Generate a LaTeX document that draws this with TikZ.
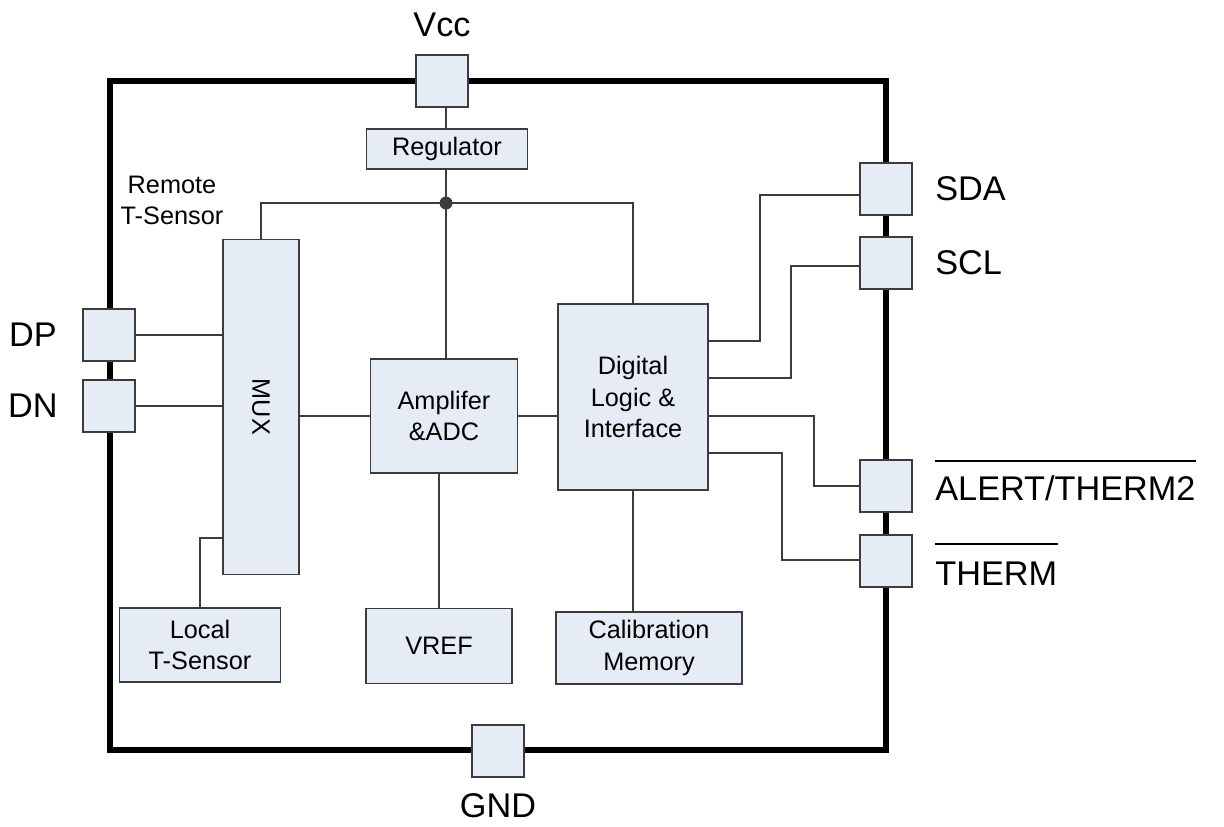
\documentclass[tikz,border=0pt]{standalone}
\usepackage{fontspec}
\usepackage{graphicx}
\setmainfont{Liberation Sans}
\definecolor{boxfill}{RGB}{230,236,246}
\definecolor{wirecol}{RGB}{60,60,60}

\begin{document}
\begin{tikzpicture}[x=0.02cm,y=-0.02cm,
  blk/.style={draw=wirecol,fill=boxfill,line width=0.8pt,inner sep=0pt,align=center,font=\fontsize{14.4}{18}\selectfont},
  pad/.style={blk,minimum width=1.04cm,minimum height=1.04cm},
  pin/.style={inner sep=0pt,font=\fontsize{19.5}{22}\selectfont},
  link/.style={draw=wirecol,line width=0.8pt},
  bar/.style={line width=0.9pt}]
\useasboundingbox (0,0) rectangle (1224,826);

% chip outline
\draw[line width=3.4pt] (110,81) rectangle (886,750);

% blocks
\node[blk,minimum width=3.22cm,minimum height=0.8cm] (reg) at (447,149) {Regulator};
\node[blk,minimum width=1.52cm,minimum height=6.7cm] (mux) at (261,407) {\rotatebox{-90}{MUX}};
\node[blk,minimum width=2.94cm,minimum height=2.28cm] (amp) at (444,416) {Amplifer\\\&ADC};
\node[blk,minimum width=3.0cm,minimum height=3.72cm] (dig) at (633,397) {Digital\\Logic \&\\Interface};
\node[blk,minimum width=3.22cm,minimum height=1.48cm] (local) at (200,645) {Local\\T-Sensor};
\node[blk,minimum width=2.92cm,minimum height=1.5cm] (vref) at (439,646) {VREF};
\node[blk,minimum width=3.72cm,minimum height=1.44cm] (calib) at (649,648) {Calibration\\Memory};
\node[align=center,inner sep=0pt,font=\fontsize{14.4}{17.6}\selectfont] (remote) at (172,200) {Remote\\T-Sensor};

% pads
\node[pad] (vcc) at (442,81) {};
\node[pad] (gnd) at (498,751) {};
\node[pad] (dp) at (109,335) {};
\node[pad] (dn) at (109,406) {};
\foreach \n/\y in {sda/189,scl/263,alert/486,therm/561}{%
\node[pad] (\n) at (886,\y) {};
}

% pin labels
\node[pin] (vcclbl) at (442,25) {Vcc};
\node[pin] (gndlbl) at (498,806) {GND};
\node[pin,anchor=east] (dplbl) at (57,335) {DP};
\node[pin,anchor=east] (dnlbl) at (58,406) {DN};
\node[pin,anchor=west] (sdalbl) at (935,189) {SDA};
\node[pin,anchor=west] (scllbl) at (935,263) {SCL};
\node[pin,anchor=west] (alertlbl) at (935,488) {ALERT/THERM2};
\node[pin,anchor=west] (thermlbl) at (935,574) {THERM};
\draw[bar] ([yshift=0.28cm]alertlbl.north west) -- ([yshift=0.28cm]alertlbl.north east);
\draw[bar] ([yshift=0.36cm]thermlbl.north west) -- ([yshift=0.36cm]thermlbl.north east);

% supply
\coordinate (dot) at (446,203);
\draw[link] (dot |- vcc.south) -- (dot |- reg.north);
\draw[link] (dot |- reg.south) -- (dot |- amp.north);
\draw[link] (mux.north) |- (dot) -| (dig.north);
\fill[wirecol] (dot) circle (0.13cm);

% signal path
\draw[link] (dp.east) -- (dp.east -| mux.west);
\draw[link] (dn.east) -- (dn.east -| mux.west);
\draw[link] (amp.west -| mux.east) -- (amp.west);
\draw[link] (amp.east) -- (amp.east -| dig.west);
\draw[link] (local.north) |- (mux.west |- 0,538);
\draw[link] (vref.north) -- (vref.north |- amp.south);
\draw[link] (dig.south) -- (dig.south |- calib.north);

% interface pins
\foreach \n/\a/\b/\c in {sda/341/760/195,scl/378/791/266,alert/416/814/486,therm/453/782/560}{%
\draw[link] (dig.east |- 0,\a) -| (\b,\c) -- (\n.west |- 0,\c);
}

\end{tikzpicture}
\end{document}
